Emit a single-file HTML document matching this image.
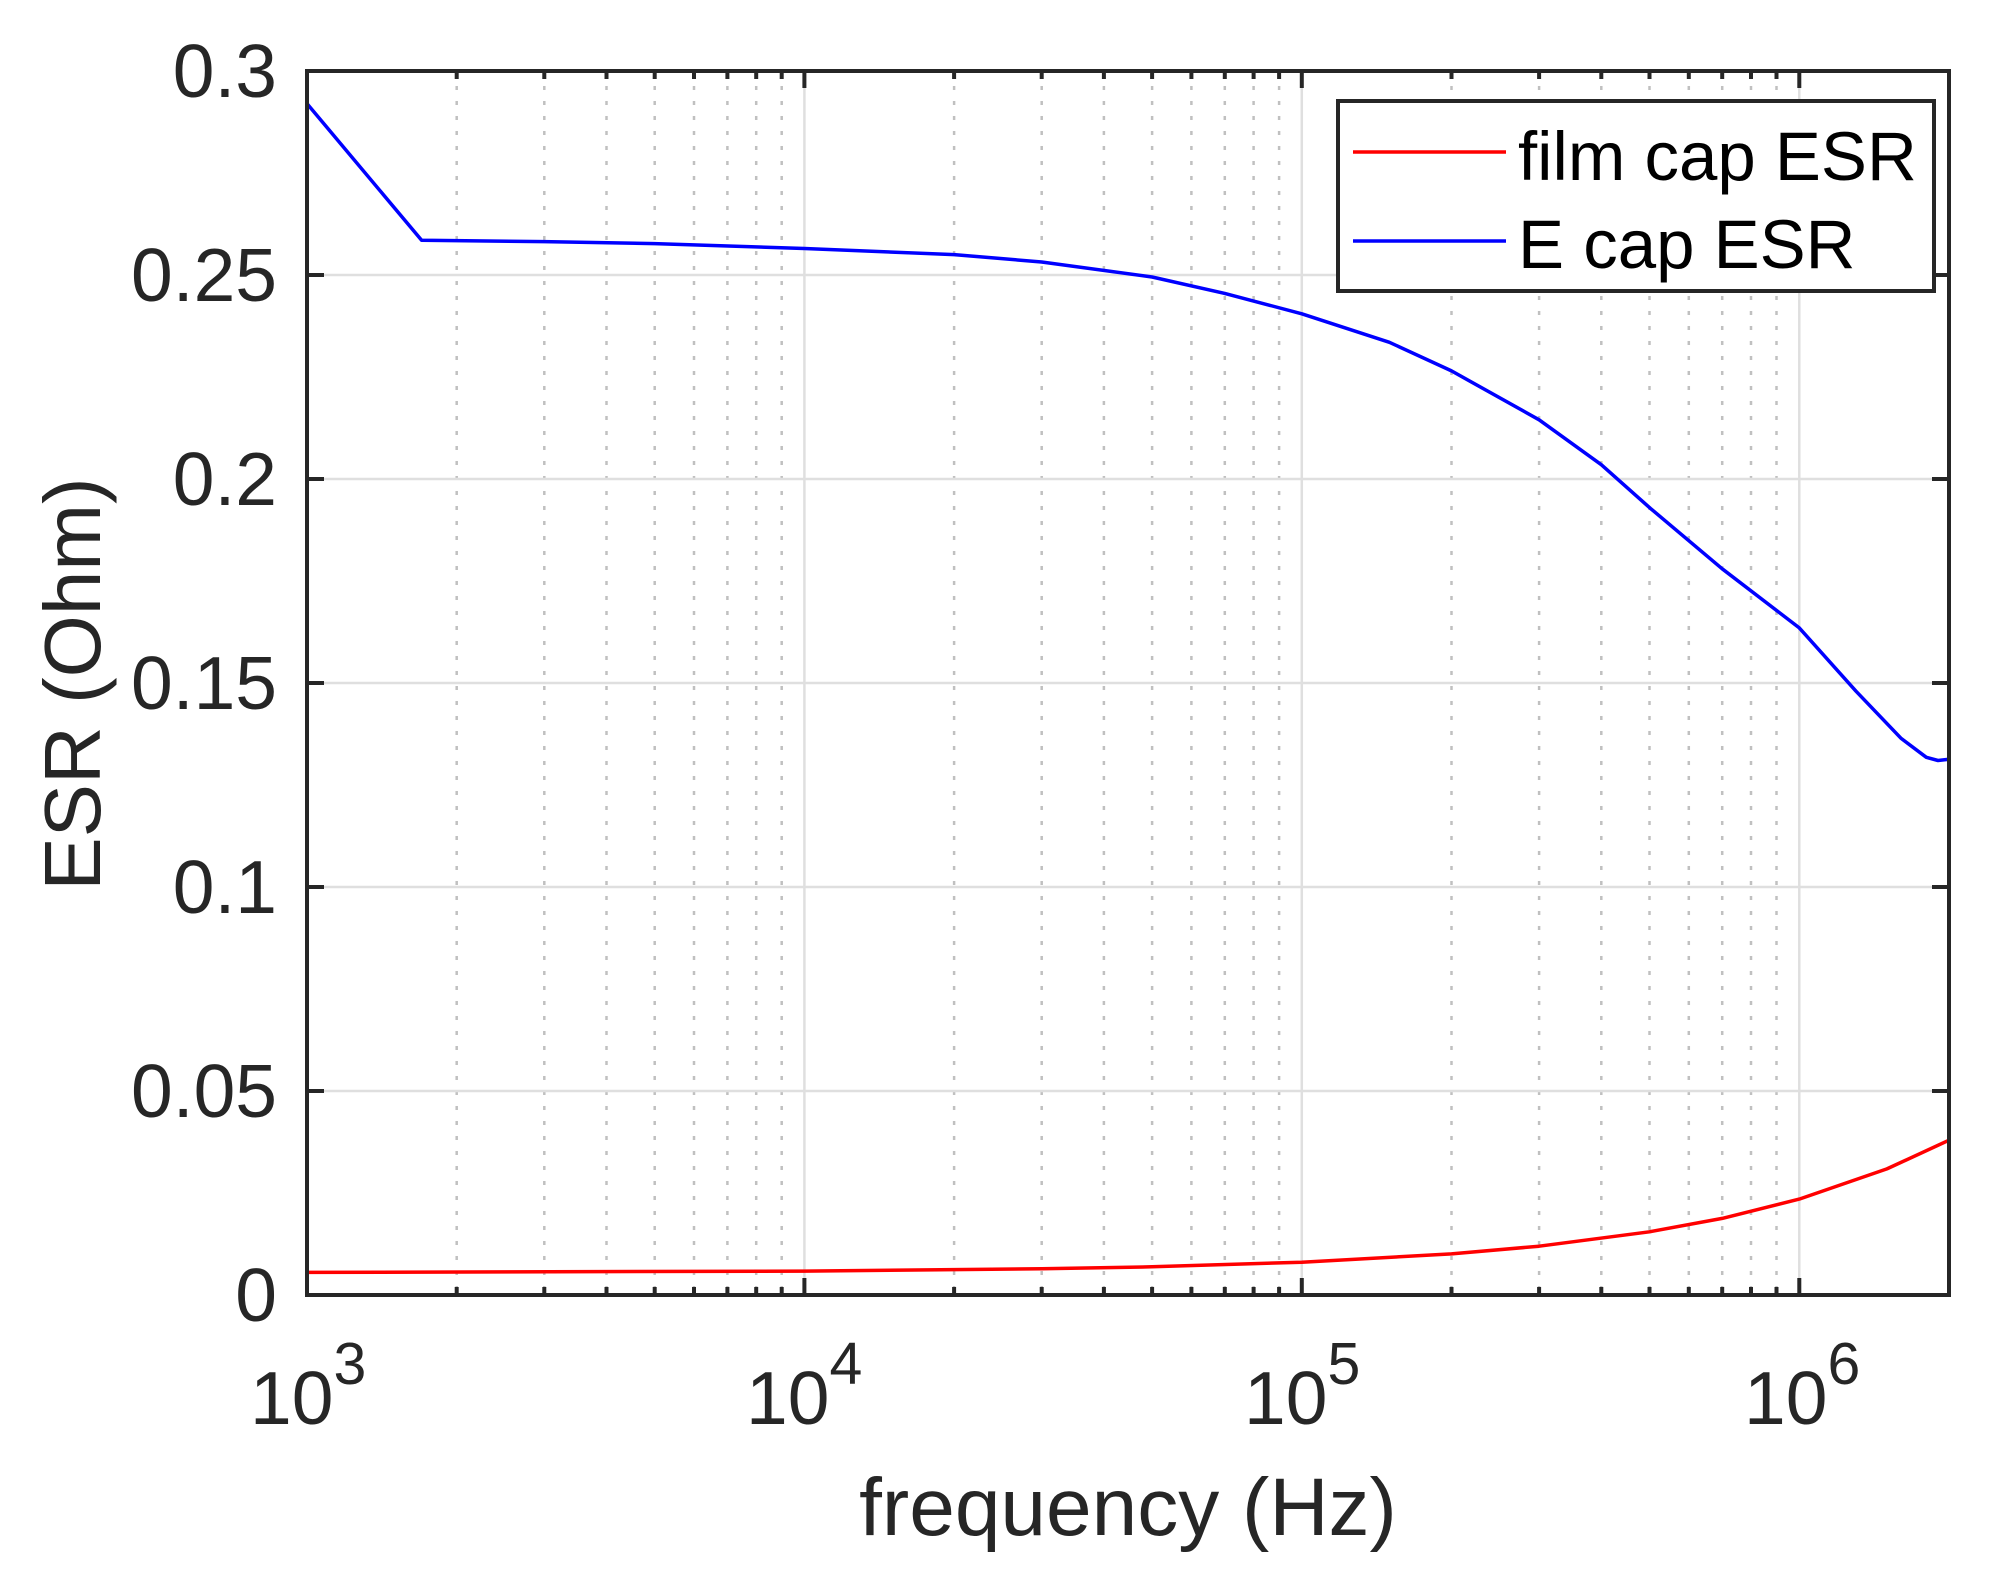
<!DOCTYPE html>
<html><head><meta charset="utf-8"><style>
html,body{margin:0;padding:0;background:#fff;}
svg{display:block;font-family:"Liberation Sans",Arial,sans-serif;}
</style></head><body>
<svg width="1999" height="1579" viewBox="0 0 1999 1579" xmlns="http://www.w3.org/2000/svg">
<rect width="1999" height="1579" fill="#fff"/>
<!-- minor grid -->
<path stroke="#c0c0c0" stroke-width="2.5" stroke-dasharray="4 11" fill="none" d="M456.7 71V1295M544.3 71V1295M606.5 71V1295M654.7 71V1295M694 71V1295M727.4 71V1295M756.2 71V1295M781.7 71V1295M954.1 71V1295M1041.7 71V1295M1103.9 71V1295M1152.1 71V1295M1191.4 71V1295M1224.8 71V1295M1253.6 71V1295M1279.1 71V1295M1451.5 71V1295M1539.1 71V1295M1601.3 71V1295M1649.5 71V1295M1688.8 71V1295M1722.2 71V1295M1751 71V1295M1776.5 71V1295"/>
<!-- major grid -->
<path stroke="#dfdfdf" stroke-width="2.5" fill="none" d="M804.4 71V1295M1301.8 71V1295M1799.3 71V1295M307 1091H1949M307 887H1949M307 683H1949M307 479H1949M307 275H1949"/>
<!-- curves -->
<polyline fill="none" stroke="#ff0000" stroke-width="3.5" stroke-linejoin="round" points="307,1272.4 804.4,1271.1 1041.7,1268.8 1152.1,1266.8 1301.8,1262.2 1451.5,1253.9 1539.1,1246.2 1649.5,1231.8 1722.2,1218.4 1799.3,1199.1 1886.9,1168.9 1949,1140.2"/>
<polyline fill="none" stroke="#0000ff" stroke-width="3.5" stroke-linejoin="round" points="307,103.6 421.6,240.3 544.3,241.6 654.7,243.6 804.4,248.5 954.1,254.6 1041.7,262 1152.1,277 1224.8,293.4 1301.8,313.8 1389.4,342.3 1451.5,370.9 1539.1,419.8 1601.3,464.7 1649.5,507.6 1722.2,568.8 1799.3,627.9 1856,691.2 1900.8,738.1 1926.3,757.3 1938,760.5 1949,759.3"/>
<!-- ticks -->
<path stroke="#262626" stroke-width="4" fill="none" d="M307 1091h17M307 887h17M307 683h17M307 479h17M307 275h17M1949 1091h-17M1949 887h-17M1949 683h-17M1949 479h-17M1949 275h-17
M804.4 1295v-17M1301.8 1295v-17M1799.3 1295v-17M804.4 71v17M1301.8 71v17M1799.3 71v17
M456.7 1295v-8M544.3 1295v-8M606.5 1295v-8M654.7 1295v-8M694 1295v-8M727.4 1295v-8M756.2 1295v-8M781.7 1295v-8M954.1 1295v-8M1041.7 1295v-8M1103.9 1295v-8M1152.1 1295v-8M1191.4 1295v-8M1224.8 1295v-8M1253.6 1295v-8M1279.1 1295v-8M1451.5 1295v-8M1539.1 1295v-8M1601.3 1295v-8M1649.5 1295v-8M1688.8 1295v-8M1722.2 1295v-8M1751 1295v-8M1776.5 1295v-8
M456.7 71v8M544.3 71v8M606.5 71v8M654.7 71v8M694 71v8M727.4 71v8M756.2 71v8M781.7 71v8M954.1 71v8M1041.7 71v8M1103.9 71v8M1152.1 71v8M1191.4 71v8M1224.8 71v8M1253.6 71v8M1279.1 71v8M1451.5 71v8M1539.1 71v8M1601.3 71v8M1649.5 71v8M1688.8 71v8M1722.2 71v8M1751 71v8M1776.5 71v8"/>
<rect x="307" y="71" width="1642" height="1224" fill="none" stroke="#262626" stroke-width="4"/>
<g fill="#262626" font-size="75" text-anchor="end">
<text x="277" y="97">0.3</text>
<text x="277" y="301">0.25</text>
<text x="277" y="505">0.2</text>
<text x="277" y="709">0.15</text>
<text x="277" y="913">0.1</text>
<text x="277" y="1117">0.05</text>
<text x="277" y="1321">0</text>
</g>
<g fill="#262626" font-size="75">
<text x="250" y="1424">10<tspan font-size="59" dy="-40">3</tspan></text>
<text x="746" y="1424">10<tspan font-size="59" dy="-40">4</tspan></text>
<text x="1244" y="1424">10<tspan font-size="59" dy="-40">5</tspan></text>
<text x="1744" y="1424">10<tspan font-size="59" dy="-40">6</tspan></text>
</g>
<text x="1128" y="1535" fill="#262626" font-size="82" text-anchor="middle">frequency (Hz)</text>
<text transform="translate(100,684) rotate(-90)" fill="#262626" font-size="80" text-anchor="middle">ESR (Ohm)</text>
<rect x="1338" y="101" width="596" height="190" fill="#fff" stroke="#262626" stroke-width="4"/>
<line x1="1353" y1="152" x2="1506" y2="152" stroke="#ff0000" stroke-width="3.5"/>
<line x1="1353" y1="241" x2="1506" y2="241" stroke="#0000ff" stroke-width="3.5"/>
<text x="1518" y="180" font-size="69" fill="#000">film cap ESR</text>
<text x="1518" y="268" font-size="69" fill="#000">E cap ESR</text>
</svg>
</body></html>
